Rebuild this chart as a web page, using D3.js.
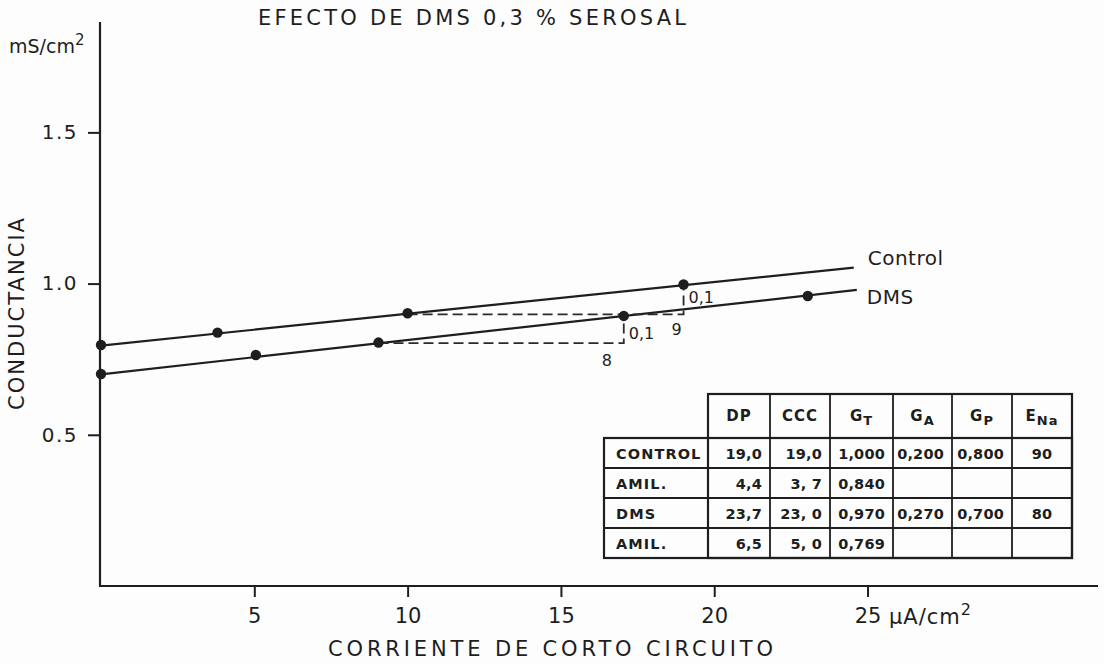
<!DOCTYPE html>
<html>
<head>
<meta charset="utf-8">
<script src="https://cdn.jsdelivr.net/npm/d3@7"></script>
<style>
  html, body { margin: 0; padding: 0; background: #fdfdfd; }
  svg { display: block; }
  text { fill: #1e1e1e; font-family: "DejaVu Sans", "Liberation Sans", sans-serif; }
</style>
</head>
<body>
<svg id="chart" width="1104" height="664"></svg>
<script>
// ---- Data ----
const controlX = [0, 3.8, 10, 19];
const controlY = [0.797, 0.838, 0.902, 0.997];
const dmsX = [0, 5.05, 9.05, 17.05, 23.05];
const dmsY = [0.701, 0.764, 0.805, 0.893, 0.959];
const controlLineX = [0, 24.55];
const controlLineY = [0.795, 1.053];
const dmsLineX = [0, 24.65];
const dmsLineY = [0.700, 0.979];
const xTicks = [5, 10, 15, 20, 25];
const yTicks = [0.5, 1.0, 1.5];
const yTickLabels = ["0.5", "1.0", "1.5"];
// dashed slope triangles: [x0, x1, yBase, yTop]
const triUpper = [10, 19, 0.898, 0.997];
const triLower = [9.05, 17.05, 0.803, 0.893];
// table
const tableHeaders = [["DP", ""], ["CCC", ""], ["G", "T"], ["G", "A"], ["G", "P"], ["E", "Na"]];
const tableRows = ["CONTROL", "AMIL.", "DMS", "AMIL."];
const tableDP = ["19,0", "4,4", "23,7", "6,5"];
const tableCCC = ["19,0", "3, 7", "23, 0", "5, 0"];
const tableGT = ["1,000", "0,840", "0,970", "0,769"];
const tableGA = ["0,200", "", "0,270", ""];
const tableGP = ["0,800", "", "0,700", ""];
const tableENa = ["90", "", "80", ""];

// ---- Setup ----
const svg = d3.select("#chart");
const x = d3.scaleLinear().domain([0, 32.5]).range([101, 1097.5]);
const y = d3.scaleLinear().domain([0, 1.865]).range([586, 22]);
const ink = "#1e1e1e";

// axes
const xAxis = svg.append("g").attr("transform", `translate(0,${y(0)})`)
  .call(d3.axisBottom(x).tickValues(xTicks).tickSize(11).tickSizeOuter(0).tickFormat(d3.format("d")));
xAxis.select(".domain").remove();
xAxis.selectAll(".tick line").attr("stroke", ink).attr("stroke-width", 2);
xAxis.selectAll(".tick text").attr("font-size", 21).attr("y", 22).attr("dy", "0.71em").attr("fill", ink)
  .attr("font-family", "DejaVu Sans");
svg.append("line").attr("x1", 100).attr("x2", 1098).attr("y1", y(0)).attr("y2", y(0))
  .attr("stroke", ink).attr("stroke-width", 2.2);

const yAxis = svg.append("g").attr("transform", `translate(100,0)`)
  .call(d3.axisLeft(y).tickValues(yTicks).tickSize(12).tickSizeOuter(0)
    .tickFormat((d, i) => yTickLabels[i]));
yAxis.select(".domain").remove();
yAxis.selectAll(".tick line").attr("stroke", ink).attr("stroke-width", 2);
yAxis.selectAll(".tick text").attr("font-size", 20).attr("x", -22).attr("fill", ink)
  .attr("font-family", "DejaVu Sans").attr("letter-spacing", 1.5);
svg.append("line").attr("x1", 100).attr("x2", 100).attr("y1", y(0) + 1).attr("y2", 22)
  .attr("stroke", ink).attr("stroke-width", 2.2);

// axis titles
svg.append("text").attr("x", 258).attr("y", 25)
  .attr("font-size", 21).attr("textLength", 428).attr("lengthAdjust", "spacing")
  .text("EFECTO DE DMS 0,3 % SEROSAL");
const ms = svg.append("text").attr("x", 9).attr("y", 53).attr("font-size", 19);
ms.append("tspan").text("mS/cm");
ms.append("tspan").attr("dy", -8).attr("font-size", 15).text("2");
svg.append("text").attr("transform", "translate(24,314) rotate(-90)").attr("text-anchor", "middle")
  .attr("font-size", 21).attr("textLength", 192).attr("lengthAdjust", "spacing")
  .text("CONDUCTANCIA");
svg.append("text").attr("x", 328).attr("y", 656)
  .attr("font-size", 21).attr("textLength", 445).attr("lengthAdjust", "spacing")
  .text("CORRIENTE DE CORTO CIRCUITO");
const ua = svg.append("text").attr("x", 889).attr("y", 624).attr("font-size", 21)
  .attr("letter-spacing", 1);
ua.append("tspan").text("\u03BCA/cm");
ua.append("tspan").attr("dy", -9).attr("font-size", 16).text("2");

// regression lines
const line = d3.line().x(d => x(d[0])).y(d => y(d[1]));
svg.append("path").datum(d3.zip(controlLineX, controlLineY)).attr("d", line)
  .attr("fill", "none").attr("stroke", ink).attr("stroke-width", 2.2);
svg.append("path").datum(d3.zip(dmsLineX, dmsLineY)).attr("d", line)
  .attr("fill", "none").attr("stroke", ink).attr("stroke-width", 2.2);

// dashed triangles
function tri(t) {
  svg.append("path").datum([[t[0], t[2]], [t[1], t[2]], [t[1], t[3]]]).attr("d", line)
    .attr("fill", "none").attr("stroke", "#2a2a2a").attr("stroke-width", 1.8)
    .attr("stroke-dasharray", "10,5");
}
tri(triUpper);
tri(triLower);

// points
svg.append("g").selectAll("circle").data(d3.zip(controlX, controlY)).join("circle")
  .attr("cx", d => x(d[0])).attr("cy", d => y(d[1])).attr("r", 5.2).attr("fill", ink);
svg.append("g").selectAll("circle").data(d3.zip(dmsX, dmsY)).join("circle")
  .attr("cx", d => x(d[0])).attr("cy", d => y(d[1])).attr("r", 5.2).attr("fill", ink);

// series labels
svg.append("text").attr("x", x(controlLineX[1]) + 14).attr("y", y(controlLineY[1]) - 3)
  .attr("font-size", 20).attr("letter-spacing", 0.5).text("Control");
svg.append("text").attr("x", x(dmsLineX[1]) + 10).attr("y", y(dmsLineY[1]) + 14)
  .attr("font-size", 20).attr("letter-spacing", 0.5).text("DMS");

// triangle annotations
const annFont = "'Liberation Sans Narrow', 'DejaVu Sans Condensed', 'DejaVu Sans', sans-serif";
function ann(tx, ty, s) {
  svg.append("text").attr("x", tx).attr("y", ty).attr("font-size", 16)
    .attr("font-family", annFont).text(s);
}
ann(x(triUpper[1]) + 5, y((triUpper[2] + triUpper[3]) / 2) + 4, "0,1");
ann(x(triUpper[1]) - 12, y(triUpper[2]) + 21, "9");
ann(x(triLower[1]) + 5, y((triLower[2] + triLower[3]) / 2) + 9, "0,1");
ann(x(triLower[1]) - 22, y(triLower[2]) + 23, "8");

// ---- Table ----
const colEdges = [604, 708, 770, 830, 893, 952, 1012, 1072];
const rowEdges = [394, 438, 468, 498, 528, 558];
const tbl = svg.append("g").attr("font-family", annFont);
const bw = 2.2;
tbl.append("rect").attr("x", colEdges[1]).attr("y", rowEdges[0])
  .attr("width", colEdges[7] - colEdges[1]).attr("height", rowEdges[5] - rowEdges[0])
  .attr("fill", "none").attr("stroke", ink).attr("stroke-width", bw);
tbl.append("rect").attr("x", colEdges[0]).attr("y", rowEdges[1])
  .attr("width", colEdges[7] - colEdges[0]).attr("height", rowEdges[5] - rowEdges[1])
  .attr("fill", "none").attr("stroke", ink).attr("stroke-width", bw);
for (let i = 2; i < 7; i++) {
  tbl.append("line").attr("x1", colEdges[i]).attr("x2", colEdges[i])
    .attr("y1", rowEdges[0]).attr("y2", rowEdges[5]).attr("stroke", ink).attr("stroke-width", 1.8);
}
for (let j = 2; j < 5; j++) {
  tbl.append("line").attr("x1", colEdges[0]).attr("x2", colEdges[7])
    .attr("y1", rowEdges[j]).attr("y2", rowEdges[j]).attr("stroke", ink).attr("stroke-width", 1.8);
}
tableHeaders.forEach((h, i) => {
  const cx = (colEdges[i + 1] + colEdges[i + 2]) / 2;
  const t = tbl.append("text").attr("x", cx).attr("y", (rowEdges[0] + rowEdges[1]) / 2 + 5)
    .attr("text-anchor", "middle").attr("font-size", 15).attr("font-weight", "bold")
    .attr("letter-spacing", 1);
  t.append("tspan").text(h[0]);
  if (h[1]) t.append("tspan").attr("dy", 4).attr("font-size", 13).text(h[1]);
});
tableRows.forEach((r, j) => {
  tbl.append("text").attr("x", 616).attr("y", (rowEdges[j + 1] + rowEdges[j + 2]) / 2 + 5.5)
    .attr("font-size", 14.5).attr("font-weight", "bold").attr("letter-spacing", 1.1).text(r);
});
const cols = [tableDP, tableCCC, tableGT, tableGA, tableGP, tableENa];
const anchors = ["end", "end", "end", "end", "end", "middle"];
cols.forEach((col, i) => {
  col.forEach((v, j) => {
    if (!v) return;
    const xx = anchors[i] === "middle" ? (colEdges[i + 1] + colEdges[i + 2]) / 2 : colEdges[i + 2] - 8;
    tbl.append("text").attr("x", xx).attr("y", (rowEdges[j + 1] + rowEdges[j + 2]) / 2 + 5.5)
      .attr("text-anchor", anchors[i]).attr("font-size", 14.5).attr("font-weight", "bold")
      .attr("letter-spacing", 0.2).text(v);
  });
});
</script>
</body>
</html>
